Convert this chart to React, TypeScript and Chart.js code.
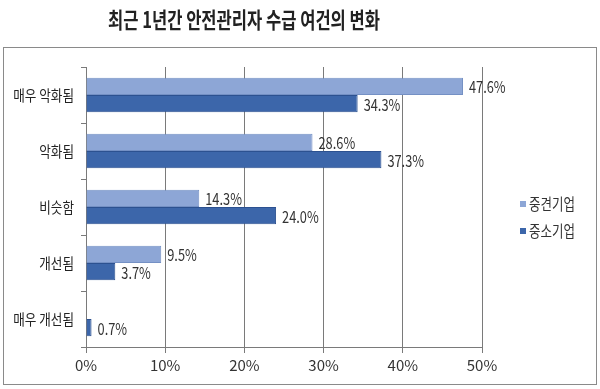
import React, { useEffect, useRef } from "react";
import { Chart, registerables } from "chart.js";

Chart.register(...registerables);

const TITLE = "최근 1년간 안전관리자 수급 여건의 변화";
const categories = ["매우 악화됨", "악화됨", "비슷함", "개선됨", "매우 개선됨"];
const seriesNames = ["중견기업", "중소기업"];
const midSizedValues: (number | null)[] = [47.6, 28.6, 14.3, 9.5, null];
const smallSizedValues: (number | null)[] = [34.3, 37.3, 24.0, 3.7, 0.7];
const xTickValues = [0, 10, 20, 30, 40, 50];

const FONT = '"Noto Sans CJK KR", "Noto Sans", sans-serif';
const LIGHT = "#8DA6D6";
const LIGHT_BORDER = "#7490C4";
const DARK = "#3C66AA";
const DARK_BORDER = "#2C5190";

function condensedText(ctx: any, txt: string, x: number, y: number, sx: number, align: string) {
  ctx.save();
  ctx.translate(x, y);
  ctx.scale(sx, 1);
  ctx.textAlign = align;
  ctx.fillText(txt, 0, 0);
  ctx.restore();
}

const framePlugin = {
  id: "frame",
  beforeDraw(chart: any) {
    const ctx = chart.ctx;
    ctx.save();
    ctx.fillStyle = "#ffffff";
    ctx.fillRect(0, 0, chart.width, chart.height);
    ctx.strokeStyle = "#8a8a8a";
    ctx.lineWidth = 1;
    ctx.strokeRect(3.5, 47.5, 593, 337);
    ctx.fillStyle = "#222";
    ctx.font = "bold 22px " + FONT;
    ctx.textAlign = "center";
    ctx.textBaseline = "middle";
    ctx.fillText(TITLE, 244, 20, 272);
    ctx.restore();
  },
  afterDatasetsDraw(chart: any) {
    const ctx = chart.ctx;
    ctx.save();
    ctx.textBaseline = "middle";
    // category labels (condensed)
    const yScale = chart.scales.y;
    ctx.fillStyle = "#222";
    ctx.font = "15px " + FONT;
    chart.data.labels.forEach((lab: string, i: number) => {
      const y = yScale.getPixelForValue(i);
      condensedText(ctx, lab, 74, y, 0.84, "right");
    });
    // value labels
    ctx.font = "16px " + FONT;
    ctx.fillStyle = "#333";
    chart.data.datasets.forEach((ds: any, di: number) => {
      const meta = chart.getDatasetMeta(di);
      meta.data.forEach((bar: any, i: number) => {
        const v = ds.data[i];
        if (v === null || v === undefined) return;
        condensedText(ctx, v.toFixed(1) + "%", bar.x + 6, bar.y + 1, 0.8, "left");
      });
    });
    // legend
    chart.data.datasets.forEach((ds: any, k: number) => {
      const y = 204 + k * 27;
      ctx.fillStyle = ds.backgroundColor;
      ctx.fillRect(520, y - 3, 6, 6);
      ctx.fillStyle = "#333";
      ctx.font = "16px " + FONT;
      condensedText(ctx, ds.label, 529, y, 0.78, "left");
    });
    ctx.restore();
  },
};

export default function App() {
  const ref = useRef<HTMLCanvasElement | null>(null);
  useEffect(() => {
    if (!ref.current) return;
    const chart = new Chart(ref.current, {
      type: "bar",
      data: {
        labels: categories,
        datasets: [
          {
            label: seriesNames[0],
            data: midSizedValues,
            backgroundColor: LIGHT,
            borderColor: LIGHT_BORDER,
            borderWidth: 1,
            categoryPercentage: 0.62,
            barPercentage: 1,
          },
          {
            label: seriesNames[1],
            data: smallSizedValues,
            backgroundColor: DARK,
            borderColor: DARK_BORDER,
            borderWidth: 1,
            categoryPercentage: 0.62,
            barPercentage: 1,
          },
        ],
      },
      options: {
        indexAxis: "y",
        responsive: false,
        animation: false,
        layout: { padding: { top: 67, right: 118, bottom: 12, left: 0 } },
        plugins: {
          legend: { display: false },
          title: { display: false },
          tooltip: { enabled: false },
        },
        scales: {
          x: {
            min: 0,
            max: 50,
            afterBuildTicks: (scale: any) => {
              scale.ticks = xTickValues.map((v) => ({ value: v }));
            },
            afterFit: (scale: any) => {
              scale.height = 30;
            },
            ticks: {
              callback: (v: any) => v + "%",
              color: "#333",
              font: { family: FONT, size: 15 },
              padding: 3,
            },
            grid: {
              color: "#7a7a7a",
              lineWidth: 1,
              tickLength: 6,
              drawTicks: true,
            },
            border: { display: true, color: "#7a7a7a", width: 1 },
          },
          y: {
            afterFit: (scale: any) => {
              scale.width = 86;
            },
            ticks: {
              display: false,
            },
            grid: {
              offset: true,
              drawOnChartArea: false,
              drawTicks: true,
              tickLength: 5,
              color: "#7a7a7a",
            },
            border: { display: true, color: "#7a7a7a", width: 1 },
          },
        },
      },
      plugins: [framePlugin],
    });
    return () => chart.destroy();
  }, []);
  return (
    <div style={{ position: "absolute", left: 0, top: 0, width: 600, height: 389, background: "#fff" }}>
      <canvas ref={ref} width={600} height={389} />
    </div>
  );
}
